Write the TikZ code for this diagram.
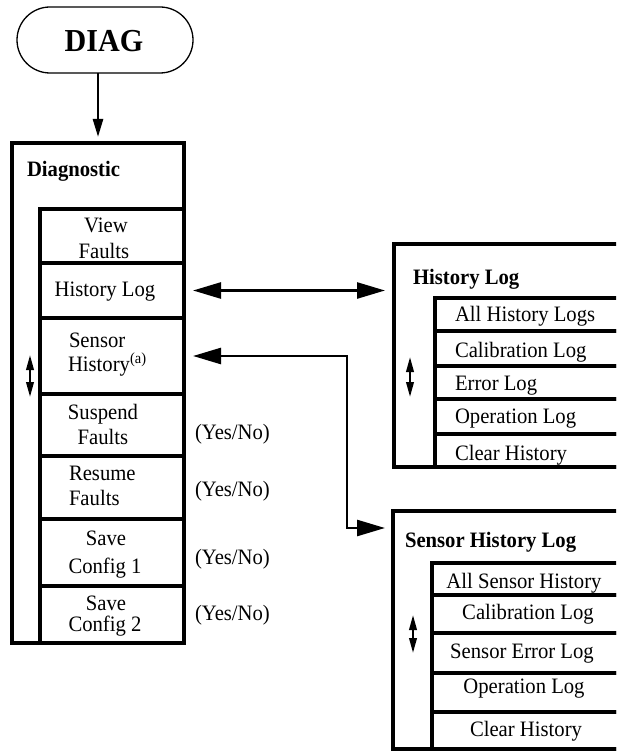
\documentclass[tikz,border=0pt]{standalone}
\usepackage{fontspec}
\setmainfont{Liberation Serif}[FakeStretch=0.94]
\usetikzlibrary{arrows.meta}
\begin{document}
\begin{tikzpicture}[x=1pt,y=-1pt,
  frame/.style={draw, line width=3.6pt, inner sep=0pt, outer sep=0pt, anchor=north west},
  txt/.style={inner sep=0pt, outer sep=0pt, font=\fontsize{22}{24}\selectfont},
  ttl/.style={txt, font=\fontsize{22}{24}\selectfont\bfseries, anchor=base west},
  lft/.style={txt, anchor=base west},
  ctr/.style={txt, anchor=base},
  conn/.style={line width=2.6pt},
  bigtip/.style={arrows={Triangle[length=28pt,width=16pt]-Triangle[length=28pt,width=16pt]}},
  scroll/.style={line width=2.2pt, arrows={Triangle[length=15pt,width=7.5pt]-Triangle[length=15pt,width=7.5pt]}}
]
\useasboundingbox (0,0) rectangle (616,751);
\clip (0,0) rectangle (616,751);

% start terminal
\node[draw, line width=1.3pt, rounded corners=33pt, minimum width=176pt, minimum height=66pt,
      inner sep=0pt, outer sep=0pt] (diag) at (105,40) {};
\node[txt, font=\fontsize{32}{34}\selectfont\bfseries, anchor=base] (tDiag) at (104,52) {DIAG};

% Diagnostic menu
\node[frame, minimum width=172pt, minimum height=500pt] (dbox) at (12,143) {};
\node[ttl] (tDiagnostic) at (27,177) {Diagnostic};

\node[frame, minimum width=144pt, minimum height=54pt] (dView) at (40,209) {};
\node[frame, minimum width=144pt, minimum height=55pt] (dHist) at (40,263) {};
\node[frame, minimum width=144pt, minimum height=76pt] (dSens) at (40,318) {};
\node[frame, minimum width=144pt, minimum height=62pt] (dSusp) at (40,394) {};
\node[frame, minimum width=144pt, minimum height=63pt] (dRes) at (40,456) {};
\node[frame, minimum width=144pt, minimum height=67pt] (dSave1) at (40,519) {};
\node[frame, minimum width=144pt, minimum height=57pt] (dSave2) at (40,586) {};

\node[ctr] (tView1) at (106,233) {View};
\node[ctr] (tView2) at (104,258) {Faults};
\node[ctr] (tHist) at (105,296) {History Log};
\node[lft] (tSens1) at (69,347) {Sensor};
\node[lft] (tSens2) at (68,371) {History\textsuperscript{(a)}};
\node[ctr] (tSusp1) at (103,419) {Suspend};
\node[ctr] (tSusp2) at (103,444) {Faults};
\node[lft] (tRes1) at (69,480) {Resume};
\node[lft] (tRes2) at (69,505) {Faults};
\node[ctr] (tSave1a) at (106,545) {Save};
\node[ctr] (tSave1b) at (105,573) {Config 1};
\node[ctr] (tSave2a) at (106,610) {Save};
\node[ctr] (tSave2b) at (105,631) {Config 2};

\node[lft] (yn1) at (195,439) {(Yes/No)};
\node[lft] (yn2) at (195,496) {(Yes/No)};
\node[lft] (yn3) at (195,564) {(Yes/No)};
\node[lft] (yn4) at (195,620) {(Yes/No)};

\draw[scroll] (30,355) -- (30,397);

% History Log submenu
\node[frame, minimum width=236pt, minimum height=223pt] (hlog) at (394,244) {};
\node[ttl] (tHlog) at (413,284) {History Log};
\node[frame, minimum width=195pt, minimum height=33pt] (h1) at (435,298) {};
\node[frame, minimum width=195pt, minimum height=35pt] (h2) at (435,331) {};
\node[frame, minimum width=195pt, minimum height=33pt] (h3) at (435,366) {};
\node[frame, minimum width=195pt, minimum height=35pt] (h4) at (435,399) {};
\node[frame, minimum width=195pt, minimum height=33pt] (h5) at (435,434) {};
\node[lft] (th1) at (455,321) {All History Logs};
\node[lft] (th2) at (455,357) {Calibration Log};
\node[lft] (th3) at (455,390) {Error Log};
\node[lft] (th4) at (455,423) {Operation Log};
\node[lft] (th5) at (455,460) {Clear History};
\draw[scroll] (410,357) -- (410,397);

% Sensor History Log submenu
\node[frame, minimum width=237pt, minimum height=238pt] (shlog) at (393,511) {};
\node[ttl] (tShlog) at (405,547) {Sensor History Log};
\node[frame, minimum width=198pt, minimum height=32pt] (s1) at (432,563) {};
\node[frame, minimum width=198pt, minimum height=38pt] (s2) at (432,595) {};
\node[frame, minimum width=198pt, minimum height=40pt] (s3) at (432,633) {};
\node[frame, minimum width=198pt, minimum height=39pt] (s4) at (432,673) {};
\node[frame, minimum width=198pt, minimum height=37pt] (s5) at (432,712) {};
\node[ctr] (ts1) at (524,588) {All Sensor History};
\node[ctr] (ts2) at (528,619) {Calibration Log};
\node[ctr] (ts3) at (522,658) {Sensor Error Log};
\node[ctr] (ts4) at (524,693) {Operation Log};
\node[ctr] (ts5) at (526,736) {Clear History};
\draw[scroll] (413,615) -- (413,653);

% connectors
\draw[conn, -{Triangle[length=18pt,width=10pt]}, shorten >=6pt]
  ([xshift=-7pt]diag.south) -- ([xshift=-7pt]diag.south |- dbox.north);
\draw[conn, bigtip, shorten <=9pt, shorten >=9pt]
  (dHist.east) -- (dHist.east -| hlog.west);
\coordinate (jog) at (347,0);
\coordinate (shIn) at (393,528);
\draw[conn, bigtip, shorten <=9pt, shorten >=8pt]
  (dSens.east) -- (dSens.east -| jog) -- (jog |- shIn) -- (shIn);
\end{tikzpicture}
\end{document}
